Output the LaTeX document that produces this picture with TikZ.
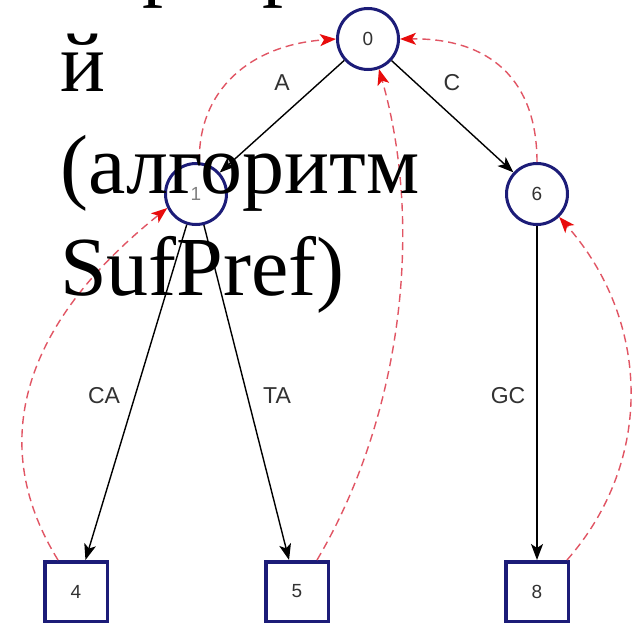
\documentclass[tikz,border=0pt]{standalone}
\usepackage{fontspec}
\setmainfont{Liberation Serif}
\newfontfamily\labfont{Liberation Sans}
\usetikzlibrary{arrows.meta}
\definecolor{navy}{RGB}{28,28,120}
\definecolor{dashred}{RGB}{225,85,100}
\definecolor{tipred}{RGB}{232,12,12}
\definecolor{labgray}{RGB}{50,50,50}
\begin{document}
\begin{tikzpicture}[x=1pt,y=-1pt,
  state/.style={circle,draw=navy,line width=3pt,fill=white,minimum size=61pt,inner sep=0pt,font=\labfont\fontsize{19}{19}\selectfont,text=labgray},
  leaf/.style={rectangle,draw=navy,line width=3.5pt,fill=white,minimum width=62.5pt,minimum height=59.5pt,inner sep=0pt,font=\labfont\fontsize{19}{19}\selectfont,text=labgray},
  trans/.style={line width=1.4pt,-{Stealth[length=16pt,width=12pt,inset=4pt]}},
  suff/.style={dashred,line width=1.4pt,dash pattern=on 8pt off 5pt,-{Stealth[length=16pt,width=12pt,inset=4pt,color=tipred]}},
  elab/.style={font=\labfont\fontsize{23}{23}\selectfont,text=labgray,inner sep=0pt},
  big/.style={anchor=base west,font=\fontsize{84}{100}\selectfont,inner sep=0pt,text=black}
]
\useasboundingbox (0,0) rectangle (643,626);
\clip (0,0) rectangle (643,626);
\fill[white] (0,0) rectangle (643,626);

% nodes
\node[state] (n0) at (368,39) {0};
\node[state] (n1) at (196,194) {\textcolor{gray}{1}};
\node[state] (n6) at (537,194) {6};
\node[leaf] (b4) at (76,591.5) {4};
\node[leaf] (b5) at (297,591.5) {5};
\node[leaf] (b8) at (537,591.5) {8};

% transitions
\draw[trans] (n0) -- (n1);
\draw[trans] (n0) -- (n6);
\draw[trans] (n1) -- (b4);
\draw[trans] (n1) -- (b5);
\draw[trans] (n6) -- (b8);

% edge labels
\node[elab] (lA) at (282,83) {A};
\node[elab] (lC) at (452,83) {C};
\node[elab] (lCA) at (104,396) {CA};
\node[elab] (lTA) at (277,396) {TA};
\node[elab] (lGC) at (508,396) {GC};

% suffix links
\draw[suff] ([xshift=15pt]b4.north west) .. controls (-10,450) and (15,330) .. (n1.206);
\draw[suff] ([xshift=-13pt]b5.north east) .. controls (400,420) and (425,230) .. (n0.290);
\draw[suff] (n1.84) .. controls (198,90) and (250,45) .. (n0.west);
\draw[suff] (n6.north) .. controls (537,80) and (490,38) .. (n0.east);
\draw[suff] ([xshift=-3pt]b8.north east) .. controls (655,460) and (650,320) .. (n6.314);

% overlay title text
\node[big] (t1) at (60,-9) {перекрыти};
\node[big] (t2) at (60,92) {й};
\node[big] (t3) at (60,193) {(алгоритм};
\node[big] (t4) at (60,295) {SufPref)};
\end{tikzpicture}
\end{document}
